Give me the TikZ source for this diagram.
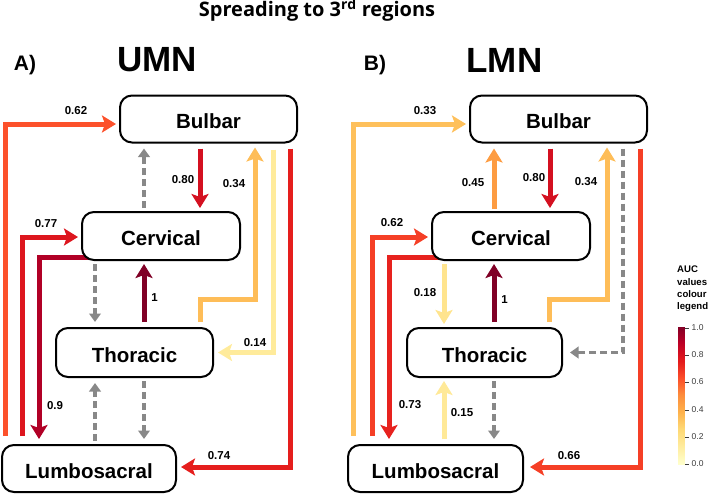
\documentclass[tikz,border=0pt]{standalone}
\usepackage{fontspec}
\setmainfont{Liberation Sans}
\newfontfamily\titlefont{Open Sans}
\usetikzlibrary{arrows.meta,backgrounds}

\definecolor{v062}{RGB}{252,81,43}
\definecolor{v077}{RGB}{221,22,30}
\definecolor{v090}{RGB}{177,0,38}
\definecolor{v080}{RGB}{212,16,32}
\definecolor{v034}{RGB}{254,189,88}
\definecolor{v014}{RGB}{255,235,155}
\definecolor{v074}{RGB}{229,30,29}
\definecolor{v100}{RGB}{128,0,38}
\definecolor{v033}{RGB}{254,192,91}
\definecolor{v045}{RGB}{253,156,66}
\definecolor{v073}{RGB}{231,34,30}
\definecolor{v066}{RGB}{245,63,38}
\definecolor{v018}{RGB}{255,228,142}
\definecolor{v015}{RGB}{255,233,152}
\definecolor{dgrey}{RGB}{136,136,136}
\definecolor{tickgrey}{RGB}{60,60,60}

\definecolor{yl0}{RGB}{255,255,204}
\definecolor{yl1}{RGB}{255,237,160}
\definecolor{yl2}{RGB}{254,217,118}
\definecolor{yl3}{RGB}{254,178,76}
\definecolor{yl4}{RGB}{253,141,60}
\definecolor{yl5}{RGB}{252,78,42}
\definecolor{yl6}{RGB}{227,26,28}
\definecolor{yl7}{RGB}{189,0,38}
\definecolor{yl8}{RGB}{128,0,38}

\begin{document}
\begin{tikzpicture}[x=1pt,y=-1pt,
  box/.style={draw=black, line width=2pt, rounded corners=12pt, fill=white,
    font=\fontsize{20.5}{24}\selectfont\bfseries, inner sep=0pt,
    text height=19.5pt, text depth=0pt},
  con/.style={line width=5pt, -{Stealth[length=14pt,width=17pt,inset=3pt]}, shorten >=3pt},
  dsh/.style={color=dgrey, line width=3.5pt, dash pattern=on 7pt off 4pt,
    -{Triangle[length=8.5pt,width=11.5pt]}, shorten <=3pt, shorten >=5pt},
  lab/.style={font=\fontsize{11.5}{13}\selectfont\bfseries, inner sep=0pt},
  head/.style={font=\fontsize{35}{40}\selectfont\bfseries, inner sep=0pt, anchor=base},
  panel/.style={font=\fontsize{21}{24}\selectfont\bfseries, inner sep=0pt, anchor=base},
  ticklab/.style={font=\fontsize{8.5}{9}\selectfont, text=tickgrey, inner sep=0pt, anchor=west}]
\useasboundingbox (0,0) rectangle (709,493);

% titles
\node[anchor=base, inner sep=0pt, font=\titlefont\fontsize{20}{24}\selectfont\bfseries] (title) at (317,16.7) {Spreading to 3\textsuperscript{rd} regions};
\node[panel] (pa) at (25,70.7) {A)};
\node[panel] (pb) at (375,70.5) {B)};
\node[head] (umn) at (157,71) {UMN};
\node[head] (lmn) at (504.5,72) {LMN};

% boxes A
\node[box, minimum width=177pt, minimum height=47pt] (bA) at (208.5,119) {Bulbar};
\node[box, minimum width=158pt, minimum height=48pt] (cA) at (161,236) {Cervical};
\node[box, minimum width=157pt, minimum height=49pt] (tA) at (134.5,352.5) {Thoracic};
\node[box, minimum width=174pt, minimum height=47pt] (lA) at (89,468.5) {Lumbosacral};
% boxes B
\node[box, minimum width=177pt, minimum height=47pt] (bB) at (558.5,119) {Bulbar};
\node[box, minimum width=158pt, minimum height=48pt] (cB) at (511,236) {Cervical};
\node[box, minimum width=155pt, minimum height=49pt] (tB) at (484.5,352.5) {Thoracic};
\node[box, minimum width=175pt, minimum height=47pt] (lB) at (435.5,468.5) {Lumbosacral};

\begin{scope}[on background layer]
% panel A connectors
\draw[con, color=v062, shorten <=8pt] (lA.north -| 5,0) |- ([yshift=-5pt]bA.west);
\draw[con, color=v077, shorten <=8pt] (lA.north -| 22,0) |- ([yshift=-1pt]cA.west);
\draw[con, color=v090, shorten >=5pt] ([xshift=8pt,yshift=4pt]cA.south west) -| (lA.north -| 39,0);
\draw[con, color=v080, shorten <=5pt] (bA.south -| 200,0) -- (cA.north -| 200,0);
\draw[dsh] (cA.north -| 144,0) -- (bA.south -| 144,0);
\draw[con, color=v034, shorten <=5pt, shorten >=4pt] (tA.north -| 200,0) -- ++(0,-28) -| (bA.south -| 255,0);
\draw[con, color=v014, shorten <=6pt, shorten >=4pt] (bA.south -| 273,0) |- (tA.east);
\draw[con, color=v074, shorten <=5pt, shorten >=4pt] (bA.south -| 290,0) |- ([yshift=1.5pt]lA.east);
\draw[con, color=v100, shorten <=5pt] (tA.north -| 144,0) -- (cA.south -| 144,0);
\draw[dsh] (cA.south -| 95,0) -- (tA.north -| 95,0);
\draw[dsh] (lA.north -| 95,0) -- (tA.south -| 95,0);
\draw[dsh] (tA.south -| 144,0) -- (lA.north -| 144,0);
% panel B connectors
\draw[con, color=v033, shorten <=8pt] (lB.north -| 353,0) |- ([yshift=-5pt]bB.west);
\draw[con, color=v066, shorten <=8pt] (lB.north -| 372,0) |- ([yshift=-1pt]cB.west);
\draw[con, color=v073, shorten >=5pt] ([xshift=8pt,yshift=4pt]cB.south west) -| (lB.north -| 389,0);
\draw[con, color=v045, shorten <=2pt, shorten >=5pt] (cB.north -| 494,0) -- (bB.south -| 494,0);
\draw[con, color=v080, shorten <=5pt] (bB.south -| 550,0) -- (cB.north -| 550,0);
\draw[con, color=v034, shorten <=5pt, shorten >=4pt] (tB.north -| 549,0) -- ++(0,-28) -| (bB.south -| 607,0);
\draw[dsh, shorten <=5pt, shorten >=7pt] (bB.south -| 623,0) |- (tB.east);
\draw[con, color=v066, shorten <=5pt, shorten >=6pt] (bB.south -| 640,0) |- ([yshift=1.5pt]lB.east);
\draw[con, color=v018, shorten <=3pt] (cB.south -| 444,0) -- (tB.north -| 444,0);
\draw[con, color=v100, shorten <=5pt] (tB.north -| 494,0) -- (cB.south -| 494,0);
\draw[con, color=v015, shorten <=5pt] (lB.north -| 444,0) -- (tB.south -| 444,0);
\draw[dsh] (tB.south -| 494,0) -- (lB.north -| 494,0);
\end{scope}

% labels A
\node[lab] (a062) at (76,111) {0.62};
\node[lab] (a077) at (46,224) {0.77};
\node[lab] (a080) at (183,180) {0.80};
\node[lab] (a034) at (234,183.5) {0.34};
\node[lab] (a100) at (154.5,298) {1};
\node[lab] (a014) at (255,342.5) {0.14};
\node[lab] (a090) at (55,406) {0.9};
\node[lab] (a074) at (219,456) {0.74};
% labels B
\node[lab] (b033) at (425,111) {0.33};
\node[lab] (b045) at (473,183) {0.45};
\node[lab] (b080) at (534,178) {0.80};
\node[lab] (b034) at (586,181.5) {0.34};
\node[lab] (b062) at (392,223) {0.62};
\node[lab] (b018) at (425,293) {0.18};
\node[lab] (b100) at (504.5,300) {1};
\node[lab] (b073) at (410,405) {0.73};
\node[lab] (b015) at (462,413) {0.15};
\node[lab] (b066) at (569,455.5) {0.66};

% legend
\node[anchor=north west, align=left, inner sep=0pt, font=\fontsize{9.6}{12.3}\selectfont\bfseries] (leg) at (677,266) {AUC\\values\\colour\\legend};
\foreach \i in {0,...,7}{
  \pgfmathtruncatemacro{\nx}{\i+1}
  \foreach \k in {0,...,16}{
    \pgfmathsetmacro{\pct}{\k*100/17}
    \pgfmathsetmacro{\ya}{465-(\i*17+\k)*1.0147}
    \fill[color=yl\nx!\pct!yl\i] (678,\ya) rectangle (685,\ya-1.4);
  }
}
\foreach \v/\yy in {1.0/328,0.8/355,0.6/382,0.4/410,0.2/437,0.0/464}{
  \draw[tickgrey, line width=0.7pt] (685,\yy) -- (688.5,\yy);
  \node[ticklab] at (691.5,\yy) {\v};
}
\end{tikzpicture}
\end{document}
